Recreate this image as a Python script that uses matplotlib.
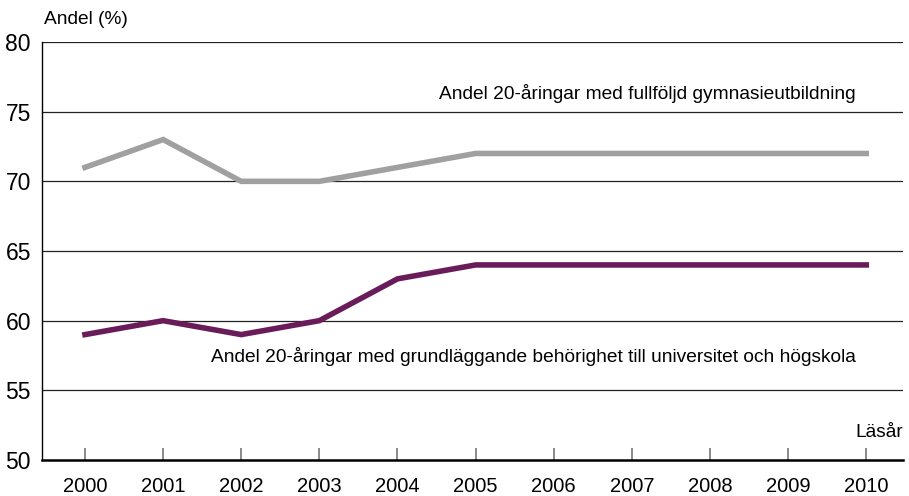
import matplotlib
matplotlib.use("Agg")
import matplotlib.pyplot as plt

years = [2000, 2001, 2002, 2003, 2004, 2005, 2006, 2007, 2008, 2009, 2010]
gymnasie = [71, 73, 70, 70, 71, 72, 72, 72, 72, 72, 72]
behorighet = [59, 60, 59, 60, 63, 64, 64, 64, 64, 64, 64]

label_gymnasie = "Andel 20-åringar med fullföljd gymnasieutbildning"
label_behorighet = "Andel 20-åringar med grundläggande behörighet till universitet och högskola"

plt.rcParams["font.family"] = ["Liberation Sans", "DejaVu Sans"]


def main():
    fig = plt.figure(figsize=(9.09, 4.96), dpi=100)
    ax = fig.add_axes([0.0462, 0.0726, 0.9472, 0.8427])

    ax.plot(years, gymnasie, color="#a0a0a0", lw=4.0, solid_joinstyle="miter", zorder=3)
    ax.plot(years, behorighet, color="#6a1b5a", lw=4.0, solid_joinstyle="miter", zorder=3)

    ax.set_xlim(1999.45, 2010.47)
    ax.set_ylim(50, 80)
    ax.set_yticks(range(50, 81, 5))
    ax.set_xticks(years)

    for y in range(55, 81, 5):
        ax.axhline(y, color="#222222", lw=0.9, zorder=1)

    for side in ["top", "right"]:
        ax.spines[side].set_visible(False)
    ax.spines["left"].set_linewidth(1.0)
    ax.spines["bottom"].set_linewidth(1.8)

    ax.tick_params(axis="x", direction="in", length=9, width=1.2, color="#777777",
                   labelsize=14.5, pad=12)
    ax.tick_params(axis="y", length=0, labelsize=16.5, pad=8)

    ax.text(2009.87, 76.3, label_gymnasie, ha="right", va="center", fontsize=13.8)
    ax.text(2009.87, 57.4, label_behorighet, ha="right", va="center", fontsize=13.8)
    ax.text(2010.47, 52.0, "Läsår", ha="right", va="center", fontsize=13.8)
    ax.text(1999.48, 81.6, "Andel (%)", ha="left", va="center", fontsize=13.8)

    fig.savefig("out.png", dpi=100)


if __name__ == "__main__":
    main()
